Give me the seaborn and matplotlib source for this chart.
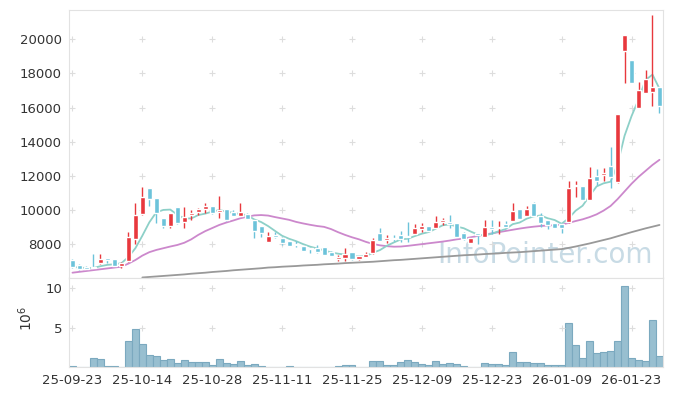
import numpy as np
import pandas as pd
import matplotlib
matplotlib.use("Agg")
import matplotlib.pyplot as plt
import seaborn as sns

# daily candles, 25-09-23 .. 26-01-29 (KRW)
opens = [7090, 6820, 6700, 6700, 6940, 7190, 7130, 6740, 7050, 8320,
         9770, 11300, 10700, 9530, 9100, 10180, 9300, 9740, 9900, 10060,
         10250, 9880, 10060, 9890, 9690, 9800, 9430, 9080, 8170, 8560,
         8400, 8210, 8050, 7910, 7810, 7780, 7840, 7580, 7170, 7230,
         7540, 7130, 7290, 7480, 8670, 8280, 8360, 8560, 8520, 8610,
         8910, 9080, 8970, 9320, 9330, 9240, 8690, 8110, 8650, 8460,
         9020, 8950, 9200, 9390, 10060, 9690, 10440, 9690, 9430, 9240,
         9200, 9330, 11420, 11420, 10600, 12010, 12080, 12590, 11640, 19330,
         18790, 16000, 16880, 16940, 17190]
closes = [6700, 6590, 6590, 6620, 7150, 7090, 6760, 6900, 8420, 9730,
          10760, 10680, 9830, 9100, 9830, 9240, 9590, 9860, 10080, 10250,
          9830, 10040, 9430, 9690, 9890, 9510, 8810, 8660, 8500, 8460,
          8110, 7930, 7970, 7640, 7720, 7580, 7390, 7350, 7270, 7440,
          7130, 7330, 7440, 8250, 8210, 8400, 8300, 8340, 8440, 8980,
          9090, 8790, 9330, 9430, 9220, 8460, 8300, 8360, 8540, 9010,
          8930, 9030, 9010, 9960, 9490, 10060, 9690, 9280, 9140, 8980,
          8960, 11290, 11500, 10600, 11870, 11710, 12200, 11970, 15630, 20250,
          17460, 17040, 17680, 17230, 16120]
highs = [7150, 6850, 6720, 7440, 7440, 7200, 7150, 6950, 8750, 10410,
         11380, 11330, 10700, 9550, 9850, 10200, 10180, 10000, 10110, 10400,
         10260, 10840, 10080, 10010, 10410, 9830, 9440, 9100, 8710, 8720,
         8420, 8220, 8210, 7930, 7830, 7960, 7850, 7600, 7360, 7810,
         7560, 7350, 7560, 8400, 8950, 8550, 8550, 8760, 9300, 9190,
         9280, 9100, 9690, 9530, 9700, 9260, 8710, 8380, 8670, 9440,
         9440, 9380, 9350, 10440, 10080, 10230, 10460, 9830, 9450, 9260,
         9220, 11700, 11710, 11440, 12510, 12420, 12460, 13720, 15650, 20270,
         18800, 17490, 18210, 21420, 17210]
lows = [6650, 6510, 6560, 6600, 6840, 6940, 6740, 6650, 6990, 8010,
        9700, 10250, 9280, 8990, 8950, 9200, 8950, 9440, 9750, 9840,
        9800, 9530, 9400, 9650, 9650, 9480, 8360, 8420, 8150, 8350,
        7960, 7900, 7840, 7610, 7480, 7480, 7370, 7330, 7040, 7060,
        7110, 7110, 7240, 7460, 8190, 8100, 8200, 8160, 8160, 8590,
        8740, 8770, 8950, 9130, 8960, 8440, 8280, 8090, 8040, 8440,
        8590, 8640, 8990, 9370, 9460, 9670, 9670, 9050, 8880, 8960,
        8690, 9240, 10800, 10580, 10580, 11500, 11730, 11320, 11620, 17430,
        17440, 15990, 16860, 16100, 15670]
# volume in millions of shares
volumes = [0.13, 0.05, 0.05, 1.10, 1.00, 0.15, 0.15, 0.05, 3.35, 4.85,
           2.90, 1.55, 1.38, 0.90, 1.03, 0.50, 0.90, 0.65, 0.65, 0.65,
           0.25, 1.00, 0.50, 0.38, 0.78, 0.25, 0.38, 0.13, 0.03, 0.03,
           0.03, 0.13, 0.03, 0.03, 0.03, 0.05, 0.05, 0.05, 0.10, 0.20,
           0.20, 0.05, 0.05, 0.70, 0.70, 0.20, 0.20, 0.60, 0.85, 0.60,
           0.33, 0.20, 0.70, 0.33, 0.45, 0.33, 0.08, 0.05, 0.05, 0.45,
           0.33, 0.33, 0.20, 1.85, 0.60, 0.60, 0.45, 0.45, 0.20, 0.20,
           0.20, 5.60, 2.75, 1.10, 3.25, 1.72, 1.90, 2.00, 3.35, 10.20,
           1.10, 0.88, 0.75, 6.00, 1.35]
# 20- and 60-day moving averages as drawn (history before the window not shown)
ma20 = [6350, 6400, 6450, 6500, 6550, 6600, 6650, 6700, 6880, 7090,
        7350, 7550, 7680, 7780, 7880, 7970, 8100, 8300, 8560, 8780,
        8960, 9140, 9280, 9400, 9530, 9620, 9700, 9720, 9690, 9600,
        9520, 9440, 9320, 9230, 9150, 9080, 9030, 8900, 8720, 8560,
        8420, 8300, 8150, 8030, 7950, 7900, 7870, 7880, 7920, 7970,
        8020, 8070, 8120, 8170, 8230, 8300, 8350, 8420, 8500, 8580,
        8650, 8720, 8790, 8860, 8930, 8990, 9040, 9080, 9110, 9130,
        9160, 9260, 9370, 9470, 9600, 9760, 9980, 10250, 10650, 11100,
        11550, 11950, 12300, 12650, 12950]
ma60 = [np.nan] * 10 + [
        6070, 6100, 6130, 6160, 6190, 6220, 6250, 6290, 6320, 6350,
        6390, 6420, 6450, 6490, 6520, 6550, 6580, 6610, 6650, 6670,
        6700, 6720, 6740, 6770, 6790, 6810, 6840, 6860, 6880, 6910,
        6930, 6950, 6970, 6990, 7020, 7050, 7080, 7100, 7130, 7160,
        7190, 7220, 7250, 7280, 7310, 7340, 7370, 7390, 7410, 7440,
        7460, 7480, 7510, 7530, 7550, 7580, 7610, 7640, 7670, 7700,
        7730, 7800, 7880, 7970, 8060, 8160, 8260, 8360, 8480, 8600,
        8720, 8830, 8940, 9040, 9140]
tick_pos = [0, 10, 20, 30, 40, 50, 60, 70, 80]
tick_labels = ['25-09-23', '25-10-14', '25-10-28', '25-11-11', '25-11-25',
               '25-12-09', '25-12-23', '26-01-09', '26-01-23']

sns.set_style("white")
plt.rcParams['font.family'] = ['DejaVu Sans']

df = pd.DataFrame({'open': opens, 'close': closes, 'high': highs, 'low': lows,
                   'volume': volumes, 'ma20': ma20, 'ma60': ma60})
df['idx'] = np.arange(len(df))
df['ma5'] = df['close'].rolling(5, min_periods=1).mean()
up = df['close'] >= df['open']
colors = np.where(up, '#e8383d', '#6cc3da')

fig = plt.figure(figsize=(6.73, 3.96), dpi=100)
ax1 = fig.add_axes([0.1025, 0.298, 0.8826, 0.6768])
ax2 = fig.add_axes([0.1025, 0.0732, 0.8826, 0.2247])

# watermark
ax1.text(0.62, 0.055, 'InfoPointer.com', transform=ax1.transAxes, fontsize=20,
         color='#c8dbe5', ha='left', va='baseline', zorder=0)

# moving averages
sns.lineplot(data=df, x='idx', y='ma60', ax=ax1, color='#999999', lw=1.3, zorder=2)
sns.lineplot(data=df, x='idx', y='ma20', ax=ax1, color='#cc88cc', lw=1.3, zorder=2)
sns.lineplot(data=df, x='idx', y='ma5', ax=ax1, color='#8dd0c8', lw=1.3, zorder=2)

# candles
ax1.vlines(df['idx'], df['low'], df['high'], colors=colors, lw=1.0, zorder=3)
body_lo = np.minimum(df['open'], df['close'])
body_h = np.maximum((df['close'] - df['open']).abs(), 40)
ax1.bar(df['idx'], body_h, bottom=body_lo, width=0.72, color=colors, zorder=4)

# volume
sns.barplot(data=df, x='idx', y='volume', ax=ax2, color='#98bfd0', width=1.0,
            edgecolor='#7ba9bf', linewidth=0.8, saturation=1, errorbar=None)

price_ticks = [8000, 10000, 12000, 14000, 16000, 18000, 20000]
vol_ticks = [5, 10]
for ax, yt in ((ax1, price_ticks), (ax2, vol_ticks)):
    ax.set_xlim(-0.5, len(df) - 0.5)
    ax.set_yticks(yt)
    ax.set_xticks(tick_pos)
    ax.set_xlabel('')
    ax.set_ylabel('')
    ax.tick_params(length=0, labelsize=9.5, labelcolor='#333333', pad=5)
    for s in ax.spines.values():
        s.set_color('#e2e2e2')
        s.set_linewidth(0.8)
    xx, yy = np.meshgrid(tick_pos, yt)
    ax.plot(xx.ravel(), yy.ravel(), ls='none', marker='+', ms=5, mew=0.8,
            color='#dddddd', zorder=1)

ax1.set_ylim(6040, 21710)
ax1.set_xticklabels([])
ax2.set_ylim(0, 11.27)
ax2.set_xticklabels(tick_labels)
ax2.set_ylabel(r'$10^6$', fontsize=10, color='#333333')
ax2.yaxis.set_label_coords(-0.058, 0.55)

fig.savefig('out.png', dpi=100)
